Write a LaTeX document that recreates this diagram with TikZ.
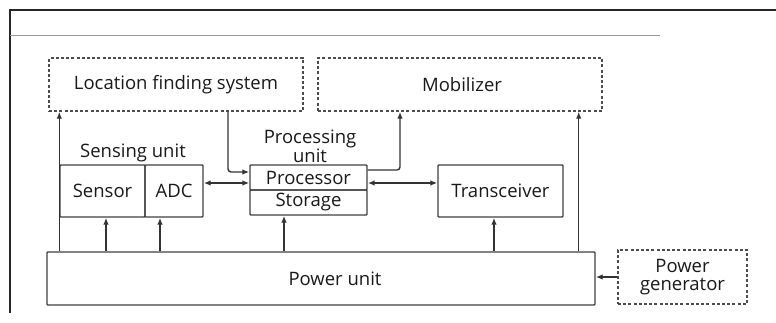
\documentclass[tikz,border=0pt]{standalone}
\usepackage{fontspec}
\setmainfont{Open Sans}
\usetikzlibrary{arrows.meta}
\tikzset{
  x=1pt, y=-1pt,
  every node/.style={font=\fontsize{18.5}{18}\selectfont, text=black!90},
  block/.style={draw=black!75, line width=1.4pt, inner sep=0pt, rounded corners=0.8pt},
  ext/.style={draw=black!70, line width=1.4pt, inner sep=0pt, dash pattern=on 3pt off 2.2pt},
  lbl/.style={inner sep=0pt, align=center},
  arr/.style={draw=black!80, line width=1.4pt, -{Latex[length=7pt,width=5.5pt]}},
  biarr/.style={draw=black!80, line width=1.4pt, {Latex[length=7pt,width=5.5pt]}-{Latex[length=7pt,width=5.5pt]}},
  frame/.style={draw=black!85, line width=1.6pt},
}
\begin{document}
\begin{tikzpicture}
\useasboundingbox (0,0) rectangle (776,322);
% page frame
\draw[frame] (776,10) -- (10,10) -- (10,313);
\draw[black!40, line width=0.8pt] (10,35) -- (660,35);

% external units
\node[ext, minimum width=254pt, minimum height=53pt] (loc) at (176,84.5) {Location finding system};
\node[ext, minimum width=284pt, minimum height=53pt] (mob) at (460,84.5) {\hspace*{4pt}Mobilizer};
\node[ext, minimum width=129pt, minimum height=54pt, align=center] (gen) at (682.5,277) {Power\\generator};

% sensing unit
\node[block, minimum width=85pt, minimum height=52pt] (sensor) at (102.5,191) {Sensor};
\node[block, minimum width=58pt, minimum height=52pt] (adc) at (174,191) {ADC};
\node[lbl] (senslbl) at (133,153) {Sensing unit};

% processing unit
\node[block, minimum width=117pt, minimum height=25pt] (proc) at (308.5,177.5) {Processor};
\node[block, minimum width=117pt, minimum height=25pt] (stor) at (308.5,202.5) {Storage};
\node[lbl] (proclbl) at (310,146) {Processing\\unit};

% transceiver and power
\node[block, minimum width=125pt, minimum height=52pt] (trans) at (500.5,191) {Transceiver};
\node[block, minimum width=548pt, minimum height=53pt] (pu) at (321,278.5) {};
\node[lbl] (pulbl) at (335,279) {Power unit};

% attachment points on the blocks
\coordinate (locout) at ([xshift=52pt]loc.south);
\coordinate (procin) at ([yshift=5.5pt]proc.west);
\coordinate (adcbus) at ([yshift=8pt]adc.east);
\coordinate (procout) at ([yshift=7.5pt]proc.east);
\coordinate (mobin) at ([xshift=-60pt]mob.south);
\coordinate (transbus) at ([yshift=8pt]trans.west);
\coordinate (mobpwr) at ([xshift=-24pt]mob.south east);
\coordinate (senspwr) at ([xshift=3.5pt]sensor.south);
\coordinate (adcpwr) at ([xshift=-14pt]adc.south);
\coordinate (storpwr) at ([xshift=-24.5pt]stor.south);
\coordinate (transpwr) at ([xshift=-6.5pt]trans.south);

% data and control links
\draw[arr] (pu.north -| sensor.west) -- (loc.south -| sensor.west);
\draw[arr, rounded corners=3pt] (locout) |- (procin);
\draw[biarr] (adcbus) -- (proc.west |- adcbus);
\draw[arr, rounded corners=3pt] (procout) -| (mobin);
\draw[biarr] (proc.east |- transbus) -- (transbus);
\draw[arr] (pu.north -| mobpwr) -- (mobpwr);

% power supply lines
\draw[arr] (pu.north -| senspwr) -- (senspwr);
\draw[arr] (pu.north -| adcpwr) -- (adcpwr);
\draw[arr] (pu.north -| storpwr) -- (storpwr);
\draw[arr] (pu.north -| transpwr) -- (transpwr);
\draw[arr] (gen.west) -- (pu.east |- gen.west);
\end{tikzpicture}
\end{document}
